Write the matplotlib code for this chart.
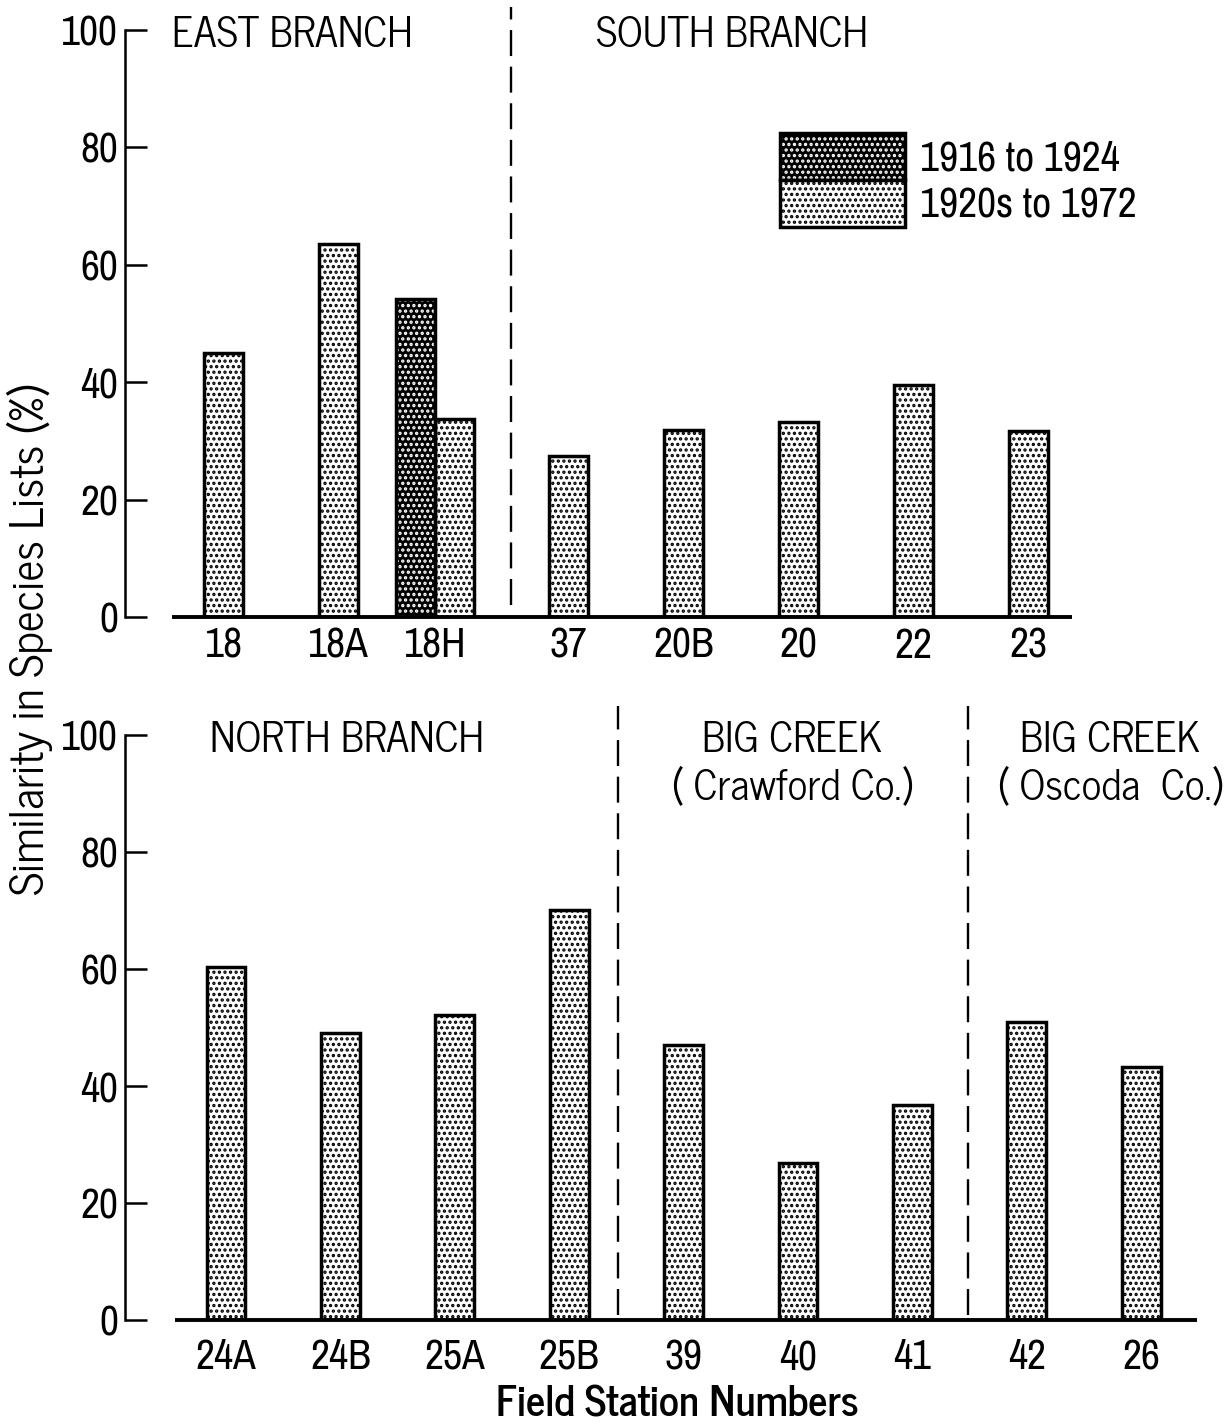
import matplotlib
matplotlib.use("Agg")
import matplotlib.pyplot as plt
import numpy as np
from matplotlib.patches import Patch
from matplotlib.legend_handler import HandlerTuple

# --- data ---
top_stations = ["18", "18A", "18H", "37", "20B", "20", "22", "23"]
top_1920s_1972 = [44.9, 63.5, 33.8, 27.4, 31.8, 33.3, 39.6, 31.7]
top_1916_1924 = [None, None, 54.2, None, None, None, None, None]

bottom_stations = ["24A", "24B", "25A", "25B", "39", "40", "41", "42", "26"]
bottom_1920s_1972 = [60.3, 49.0, 52.1, 70.1, 47.0, 26.8, 36.8, 50.9, 43.2]

legend_labels = ["1916 to 1924", "1920s to 1972"]
ylabel = "Similarity in Species Lists (%)"
xlabel = "Field Station Numbers"

NARROW = ["Archivo Narrow", "DejaVu Sans"]
GOTHIC = ["News Cycle", "DejaVu Sans"]
plt.rcParams["font.family"] = GOTHIC
plt.rcParams["hatch.linewidth"] = 1.6

W, H = 1226, 1426
fig = plt.figure(figsize=(W / 100, H / 100), dpi=100)


def axes_px(left, top, right, bottom):
    return fig.add_axes([left / W, 1 - bottom / H, (right - left) / W, (bottom - top) / H])


def light_bars(ax, x, h, w):
    ax.bar(x, h, w, facecolor="white", edgecolor="black", hatch="...",
           linewidth=2.5, zorder=2)


def dark_bars(ax, x, h, w):
    ax.bar(x, h, w, color="black", edgecolor="white", hatch="...",
           linewidth=0, zorder=2)
    ax.bar(x, h, w, fill=False, edgecolor="black", linewidth=2.5, zorder=3)


def style(ax, xlim, pos, labels, pad):
    ax.set_xlim(*xlim)
    ax.set_ylim(0, 100)
    for s in ("top", "right", "bottom"):
        ax.spines[s].set_visible(False)
    ax.spines["left"].set_linewidth(1.8)
    ax.set_yticks(range(0, 101, 20))
    ax.tick_params(axis="y", direction="in", length=16, width=1.8, pad=5,
                   labelsize=30)
    ax.set_xticks(pos, labels)
    ax.tick_params(axis="x", length=0, pad=pad, labelsize=30)
    for t in ax.get_xticklabels() + ax.get_yticklabels():
        t.set_family(NARROW)
        t.set_fontweight("medium")
    ax.patch.set_visible(False)


def divider(ax, x, lo, hi):
    ax.plot([x, x], [lo, hi], color="black", lw=1.7, ls=(0, (11, 4.5)),
            clip_on=False, zorder=1)


def baseline(ax, x0, x1):
    ax.plot([x0, x1], [0, 0], color="black", lw=2.8, clip_on=False,
            solid_capstyle="butt", zorder=4)


bw = 0.34

# ---------------- top panel ----------------
ax1 = axes_px(125, 30, 1226, 617)
pos1 = np.arange(len(top_stations), dtype=float)
pos1[2] -= 0.16
paired = np.array([v is not None for v in top_1916_1924])
x_light = np.where(paired, pos1 + bw / 2, pos1)
light_bars(ax1, x_light, top_1920s_1972, bw)
dark_x = pos1[paired] - bw / 2
dark_h = [v for v in top_1916_1924 if v is not None]
dark_bars(ax1, dark_x, dark_h, bw)
style(ax1, (-0.857, 8.717), pos1, top_stations, 7)
baseline(ax1, pos1[0] - 0.45, pos1[-1] + 0.38)
divider(ax1, 2.5, 2, 104)

ax1.text(pos1[0] - 0.45, 99.1, "EAST BRANCH", ha="left", va="center",
         fontsize=30)
ax1.text(3.24, 99.1, "SOUTH BRANCH", ha="left", va="center", fontsize=30)

h_dark = (Patch(facecolor="black", edgecolor="white", hatch="...", lw=0),
          Patch(fill=False, edgecolor="black", lw=2.5))
h_light = Patch(facecolor="white", edgecolor="black", hatch="...", lw=2.5)
ax1.legend([h_dark, h_light], legend_labels,
           handler_map={tuple: HandlerTuple(ndivide=1)},
           loc="upper left", bbox_to_anchor=(0.595, 0.8245), frameon=False,
           borderpad=0, borderaxespad=0, labelspacing=0,
           handlelength=3.0, handleheight=1.35, handletextpad=0.35,
           prop={"family": NARROW, "size": 30, "weight": "medium"})

# ---------------- bottom panel ----------------
ax2 = axes_px(125, 735, 1226, 1320)
pos2 = np.arange(len(bottom_stations), dtype=float)
light_bars(ax2, pos2, bottom_1920s_1972, bw)
style(ax2, (-0.883, 8.741), pos2, bottom_stations, 13)
baseline(ax2, pos2[0] - 0.45, pos2[-1] + 0.49)
divider(ax2, 3.43, 0.85, 105)
divider(ax2, 6.49, 0.85, 105)

ax2.text(-0.14, 99.1, "NORTH BRANCH", ha="left", va="center", fontsize=30)
ax2.text(4.95, 99.1, "BIG CREEK", ha="center", va="center", fontsize=30)
ax2.text(4.95, 90.9, "( Crawford Co.)", ha="center", va="center",
         fontsize=30)
ax2.text(7.73, 99.1, "BIG CREEK", ha="center", va="center", fontsize=30)
ax2.text(7.73, 90.9, "( Oscoda  Co.)", ha="center", va="center",
         fontsize=30)

fig.text(30 / W, 1 - 640 / H, ylabel, rotation=90, ha="center", va="center",
         fontsize=33)
fig.text(677 / W, 1 - 1405 / H, xlabel, ha="center", va="center",
         fontsize=30, fontweight="bold")

fig.savefig("out.png", dpi=100)
